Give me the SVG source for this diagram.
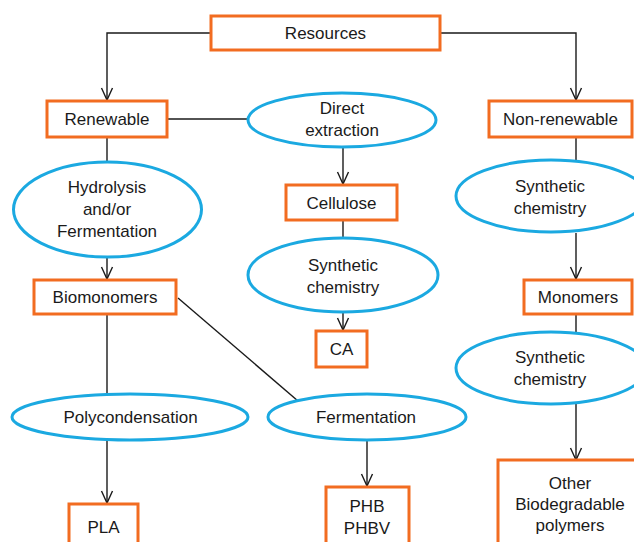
<svg xmlns="http://www.w3.org/2000/svg" width="634" height="542" viewBox="0 0 634 542">
<style>
.box{fill:#fff;stroke:#f26c21;stroke-width:3}
.ell{fill:#fff;stroke:#1ba9e1;stroke-width:3}
.t{font-family:"Liberation Sans",Arial,sans-serif;font-size:17px;fill:#1a1a1a;text-anchor:middle}
.c{fill:none;stroke:#1a1a1a;stroke-width:1.4}
</style>
<defs>
<marker id="ar" viewBox="0 0 14 14" refX="13" refY="7" markerWidth="14" markerHeight="14" markerUnits="userSpaceOnUse" orient="auto">
<path d="M1,1.5 L13,7 L1,12.5" fill="none" stroke="#1a1a1a" stroke-width="1.4"/>
</marker>
</defs>
<g id="connectors">
<path class="c" d="M211,33 H107 V100" marker-end="url(#ar)"/>
<path class="c" d="M440,33 H576 V100" marker-end="url(#ar)"/>
<path class="c" d="M167,119 H248"/>
<path class="c" d="M107,137 V162"/>
<path class="c" d="M107,257 V279" marker-end="url(#ar)"/>
<path class="c" d="M343,148 V184" marker-end="url(#ar)"/>
<path class="c" d="M343,220 V238"/>
<path class="c" d="M343,312 V330" marker-end="url(#ar)"/>
<path class="c" d="M576,137 V160"/>
<path class="c" d="M576,233 V279" marker-end="url(#ar)"/>
<path class="c" d="M576,314 V332"/>
<path class="c" d="M576,404 V460" marker-end="url(#ar)"/>
<path class="c" d="M107,314 V394"/>
<path class="c" d="M107,440 V503" marker-end="url(#ar)"/>
<path class="c" d="M178,298 L298,401"/>
<path class="c" d="M367,440 V486" marker-end="url(#ar)"/>
</g>
<g id="resources"><rect class="box" x="211" y="16" width="229" height="34"/><text class="t" x="325.5" y="39">Resources</text></g>
<g id="renewable"><rect class="box" x="47" y="101" width="120" height="36"/><text class="t" x="107" y="125">Renewable</text></g>
<g id="direct-extraction"><ellipse class="ell" cx="342" cy="120" rx="94" ry="27"/><text class="t" x="342" y="114">Direct</text><text class="t" x="342" y="136">extraction</text></g>
<g id="non-renewable"><rect class="box" x="489" y="101" width="143" height="36"/><text class="t" x="560.5" y="125" textLength="115" lengthAdjust="spacingAndGlyphs">Non-renewable</text></g>
<g id="hydrolysis"><ellipse class="ell" cx="107.5" cy="209.5" rx="94" ry="47.5"/><text class="t" x="107" y="193">Hydrolysis</text><text class="t" x="107" y="215">and/or</text><text class="t" x="107" y="237">Fermentation</text></g>
<g id="cellulose"><rect class="box" x="286" y="185" width="111" height="35"/><text class="t" x="341.5" y="209">Cellulose</text></g>
<g id="synthetic-chemistry-1"><ellipse class="ell" cx="551" cy="196" rx="95" ry="36"/><text class="t" x="550" y="192">Synthetic</text><text class="t" x="550" y="214">chemistry</text></g>
<g id="biomonomers"><rect class="box" x="34" y="280" width="142" height="34"/><text class="t" x="105" y="303">Biomonomers</text></g>
<g id="synthetic-chemistry-2"><ellipse class="ell" cx="343" cy="275" rx="95" ry="37"/><text class="t" x="343" y="271">Synthetic</text><text class="t" x="343" y="293">chemistry</text></g>
<g id="monomers"><rect class="box" x="524" y="280" width="108" height="34"/><text class="t" x="578" y="303">Monomers</text></g>
<g id="ca"><rect class="box" x="316" y="331" width="51" height="36"/><text class="t" x="341.5" y="355">CA</text></g>
<g id="synthetic-chemistry-3"><ellipse class="ell" cx="551" cy="368" rx="95" ry="36"/><text class="t" x="550" y="363">Synthetic</text><text class="t" x="550" y="385">chemistry</text></g>
<g id="polycondensation"><ellipse class="ell" cx="130" cy="417" rx="118" ry="23"/><text class="t" x="130.5" y="423">Polycondensation</text></g>
<g id="fermentation"><ellipse class="ell" cx="367" cy="417" rx="99" ry="23"/><text class="t" x="366" y="423">Fermentation</text></g>
<g id="pla"><rect class="box" x="69" y="504" width="69" height="50"/><text class="t" x="103.5" y="533">PLA</text></g>
<g id="phb"><rect class="box" x="326" y="487" width="83" height="70"/><text class="t" x="367" y="512">PHB</text><text class="t" x="367" y="534">PHBV</text></g>
<g id="other"><rect class="box" x="498" y="460" width="150" height="100"/><text class="t" x="570" y="489">Other</text><text class="t" x="570" y="510">Biodegradable</text><text class="t" x="570" y="531">polymers</text></g>
</svg>
